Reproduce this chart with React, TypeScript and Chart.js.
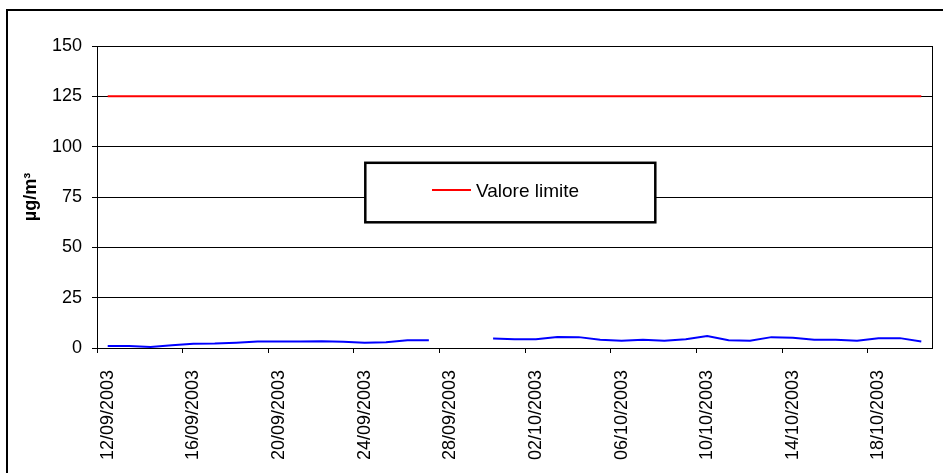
import { useEffect, useRef } from 'react';
import { Chart, registerables } from 'chart.js';

Chart.register(...registerables);

const categories = [
  '12/09/2003', '13/09/2003', '14/09/2003', '15/09/2003', '16/09/2003', '17/09/2003',
  '18/09/2003', '19/09/2003', '20/09/2003', '21/09/2003', '22/09/2003', '23/09/2003',
  '24/09/2003', '25/09/2003', '26/09/2003', '27/09/2003', '28/09/2003', '29/09/2003',
  '30/09/2003', '01/10/2003', '02/10/2003', '03/10/2003', '04/10/2003', '05/10/2003',
  '06/10/2003', '07/10/2003', '08/10/2003', '09/10/2003', '10/10/2003', '11/10/2003',
  '12/10/2003', '13/10/2003', '14/10/2003', '15/10/2003', '16/10/2003', '17/10/2003',
  '18/10/2003', '19/10/2003', '20/10/2003',
];

const concentration: (number | null)[] = [
  1.0, 1.0, 0.5, 1.4, 2.1, 2.2, 2.6, 3.2, 3.2, 3.2, 3.4, 3.1, 2.6, 2.9, 3.9, 3.9,
  null, null,
  4.7, 4.4, 4.4, 5.5, 5.4, 4.1, 3.6, 4.1, 3.6, 4.4, 6.0, 3.9, 3.6, 5.4, 5.1, 4.1,
  4.1, 3.6, 4.9, 4.9, 3.2,
];

const limitValue = [
  125, 125, 125, 125, 125, 125, 125, 125, 125, 125, 125, 125, 125,
  125, 125, 125, 125, 125, 125, 125, 125, 125, 125, 125, 125, 125,
  125, 125, 125, 125, 125, 125, 125, 125, 125, 125, 125, 125, 125,
];

const yTicks = [0, 25, 50, 75, 100, 125, 150];

const FONT = "'Liberation Sans', Arial, sans-serif";

const framePlugin = {
  id: 'frame',
  beforeDraw(chart: any) {
    const ctx = chart.ctx;
    ctx.save();
    ctx.fillStyle = '#fff';
    ctx.fillRect(0, 0, chart.width, chart.height);
    ctx.strokeStyle = '#000';
    ctx.lineWidth = 2;
    ctx.strokeRect(7, 10, 1200, 1200);
    ctx.restore();
  },
  afterDraw(chart: any) {
    const ctx = chart.ctx;
    const a = chart.chartArea;
    ctx.save();
    ctx.strokeStyle = '#000';
    ctx.lineWidth = 1;
    ctx.beginPath();
    ctx.moveTo(Math.round(a.right) + 0.5, a.top);
    ctx.lineTo(Math.round(a.right) + 0.5, a.bottom);
    ctx.stroke();

    // legend box
    const ds = chart.data.datasets[1];
    const bx = 365.3, by = 162.8, bw = 290, bh = 59.5;
    ctx.fillStyle = '#fff';
    ctx.fillRect(bx, by, bw, bh);
    ctx.lineWidth = 2.5;
    ctx.strokeStyle = '#000';
    ctx.strokeRect(bx, by, bw, bh);
    ctx.strokeStyle = ds.borderColor;
    ctx.lineWidth = 2;
    ctx.beginPath();
    ctx.moveTo(432, 190);
    ctx.lineTo(471, 190);
    ctx.stroke();
    ctx.fillStyle = '#000';
    ctx.font = `19px ${FONT}`;
    ctx.textBaseline = 'middle';
    ctx.textAlign = 'left';
    ctx.fillText(ds.label, 476, 192);
    ctx.restore();
  },
};

export default function App() {
  const ref = useRef<HTMLCanvasElement | null>(null);

  useEffect(() => {
    if (!ref.current) return;
    Chart.defaults.font.family = FONT;
    Chart.defaults.color = '#000';
    const chart = new Chart(ref.current, {
      type: 'line',
      data: {
        labels: categories,
        datasets: [
          {
            label: 'Concentrazione',
            data: concentration,
            borderColor: '#0000ff',
            backgroundColor: '#0000ff',
            borderWidth: 2,
            pointRadius: 0,
            tension: 0,
            spanGaps: false,
          },
          {
            label: 'Valore limite',
            data: limitValue,
            borderColor: '#ff0000',
            backgroundColor: '#ff0000',
            borderWidth: 2,
            pointRadius: 0,
            tension: 0,
          },
        ],
      },
      options: {
        animation: false,
        responsive: false,
        devicePixelRatio: 1,
        layout: { autoPadding: false, padding: { left: 0, top: 46, right: 11, bottom: 0 } },
        plugins: {
          legend: { display: false },
          tooltip: { enabled: false },
        },
        scales: {
          x: {
            type: 'category',
            offset: true,
            grid: {
              offset: true,
              drawOnChartArea: false,
              drawTicks: true,
              tickLength: 5,
              color: (c: any) => (c.index % 4 === 0 ? '#000' : 'rgba(0,0,0,0)'),
              tickColor: (c: any) => (c.index % 4 === 0 ? '#000' : 'rgba(0,0,0,0)'),
            },
            border: { display: true, color: '#000', width: 1 },
            ticks: {
              autoSkip: false,
              maxRotation: 90,
              minRotation: 90,
              padding: 17,
              font: { size: 18, family: FONT },
              color: '#000',
              callback: (_v: any, i: number) => (i % 4 === 0 ? categories[i] : ''),
            },
            afterFit: (s: any) => {
              s.height = 125;
              s.paddingLeft = 0;
              s.paddingRight = 0;
            },
          },
          y: {
            min: 0,
            max: 150,
            afterBuildTicks: (s: any) => {
              s.ticks = yTicks.map((v) => ({ value: v }));
            },
            grid: {
              color: '#000',
              tickColor: '#000',
              tickLength: 5,
              lineWidth: 1,
            },
            border: { display: true, color: '#000', width: 1 },
            ticks: {
              padding: 10,
              font: { size: 18, family: FONT },
              color: '#000',
            },
            title: {
              display: true,
              text: 'µg/m³',
              font: { size: 18, weight: 'bold', family: FONT },
              color: '#000',
              padding: { top: 20, bottom: 0 },
            },
            afterFit: (s: any) => {
              s.width = 97;
              s.paddingTop = 0;
              s.paddingBottom = 0;
            },
          },
        },
      },
      plugins: [framePlugin],
    });
    return () => chart.destroy();
  }, []);

  return (
    <div style={{ position: 'fixed', left: 0, top: 0, width: 943, height: 473, background: '#fff' }}>
      <canvas ref={ref} width={943} height={473} />
    </div>
  );
}
